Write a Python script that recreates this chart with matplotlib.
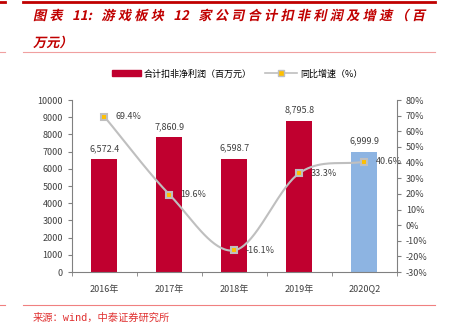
import re
import numpy as np
import matplotlib
matplotlib.use('Agg')
import matplotlib.pyplot as plt
from matplotlib.lines import Line2D
from matplotlib.patches import Patch, PathPatch
from matplotlib.textpath import TextPath, text_to_path
from matplotlib.font_manager import FontProperties
from matplotlib.transforms import Affine2D

plt.rcParams['font.family'] = ['Noto Sans CJK SC', 'DejaVu Sans']
plt.rcParams['font.size'] = 6

categories = ['2016年', '2017年', '2018年', '2019年', '2020Q2']
profit = [6572.4, 7860.9, 6598.7, 8795.8, 6999.9]
growth = [69.4, 19.6, -16.1, 33.3, 40.6]
profit_labels = ['6,572.4', '7,860.9', '6,598.7', '8,795.8', '6,999.9']
growth_labels = ['69.4%', '19.6%', '-16.1%', '33.3%', '40.6%']
title_line1 = '图表 11: 游戏板块 12 家公司合计扣非利润及增速（百'
title_line2 = '万元）'

red = '#C0002F'
blue = '#8DB4E2'
grey = '#BFBFBF'
axis_grey = '#808080'
title_red = '#C00000'
DPI = 100

fig = plt.figure(figsize=(4.49, 3.27), dpi=DPI)
H = 327

title_fp = FontProperties(family=['Noto Sans CJK SC', 'DejaVu Sans'], weight='bold', size=9.5)


def italic_text(s, x0, baseline, fp, color, width=None):
    # slanted text; latin runs kept together, CJK glyphs spread to the given width
    scale = DPI / 72.0
    tokens = re.findall(r'[0-9A-Za-z:]+| |.', s)
    widths = [text_to_path.get_text_width_height_descent(tk, fp, ismath=False)[0] * scale
              for tk in tokens]
    gap = 0.0
    if width is not None and len(tokens) > 1:
        gap = (width - sum(widths)) / (len(tokens) - 1)
    x = x0
    for tk, w in zip(tokens, widths):
        if tk.strip():
            path = TextPath((0, 0), tk, prop=fp)
            tr = Affine2D().skew_deg(12, 0).scale(scale).translate(x, baseline)
            fig.add_artist(PathPatch(path, transform=tr, color=color, lw=0))
        x += w + gap


italic_text(title_line1, 33, H - 20, title_fp, title_red, width=392)
italic_text(title_line2, 33, H - 47, title_fp, title_red)

# header / footer rules
fig.add_artist(Line2D([0.051, 0.969], [0.994, 0.994], color='#C00000', lw=2))
fig.add_artist(Line2D([0, 0.011], [0.994, 0.994], color='#C00000', lw=2))
fig.add_artist(Line2D([0.051, 0.969], [0.841, 0.841], color='#F0A0A0', lw=0.8))
fig.add_artist(Line2D([0, 0.011], [0.841, 0.841], color='#F0A0A0', lw=0.8))
fig.add_artist(Line2D([0.051, 0.969], [0.067, 0.067], color='#F08080', lw=0.8))
fig.add_artist(Line2D([0, 0.011], [0.067, 0.067], color='#F08080', lw=0.8))
fig.text(0.073, 0.027, '来源：wind，中泰证券研究所', color='#E03030',
         fontsize=7.4, ha='left', va='center',
         family=['DejaVu Sans Mono', 'Noto Sans CJK SC'])

ax = fig.add_axes([0.160, 0.168, 0.724, 0.526])
x = np.arange(len(categories))
colors = [red] * 4 + [blue]
ax.bar(x, profit, width=0.4, color=colors, zorder=2)
for xi, v, lab in zip(x, profit, profit_labels):
    ax.text(xi, v + 350, lab, ha='center', va='bottom', fontsize=6.5, color='#404040')

ax.set_xlim(-0.5, len(categories) - 0.5)
ax.set_ylim(0, 10000)
ax.set_yticks(np.arange(0, 10001, 1000))
ax.set_xticks(x)
ax.set_xticklabels(categories)
ax.set_xticks(np.arange(-0.5, len(categories), 1), minor=True)
ax.tick_params(axis='x', which='major', length=0, pad=9, labelsize=6.5, colors='#404040')
ax.tick_params(axis='x', which='minor', length=3, color=axis_grey)
ax.tick_params(axis='y', length=3, color=axis_grey, labelsize=6.5, labelcolor='#404040')
for s in ['top', 'right']:
    ax.spines[s].set_visible(False)
for s in ['left', 'bottom']:
    ax.spines[s].set_color(axis_grey)

ax2 = ax.twinx()
ax2.set_ylim(-30, 80)
ax2.set_yticks(np.arange(-30, 81, 10))
ax2.set_yticklabels([f'{t}%' for t in range(-30, 81, 10)])
ax2.tick_params(axis='y', length=3, color=axis_grey, labelsize=6.5, labelcolor='#404040')
for s in ['top', 'left', 'bottom']:
    ax2.spines[s].set_visible(False)
ax2.spines['right'].set_color(axis_grey)

# smoothed line (Catmull-Rom through the data points)
px = x.astype(float)
py = np.array(growth, dtype=float)
ext_x = np.concatenate([[2 * px[0] - px[1]], px, [2 * px[-1] - px[-2]]])
ext_y = np.concatenate([[2 * py[0] - py[1]], py, [2 * py[-1] - py[-2]]])
sx, sy = [], []
t = np.linspace(0, 1, 40)
for i in range(1, len(ext_x) - 2):
    for arr, out in ((ext_x, sx), (ext_y, sy)):
        p0, p1, p2, p3 = arr[i - 1], arr[i], arr[i + 1], arr[i + 2]
        out.extend(0.5 * ((2 * p1) + (-p0 + p2) * t
                          + (2 * p0 - 5 * p1 + 4 * p2 - p3) * t ** 2
                          + (-p0 + 3 * p1 - 3 * p2 + p3) * t ** 3))
ax2.plot(sx, sy, color=grey, lw=1.5, zorder=3)
ax2.plot(px, py, ls='none', marker='s', ms=5, mfc='#FFC000', mec=grey, mew=1.5, zorder=4)
for xi, v, lab in zip(px, py, growth_labels):
    ax2.text(xi + 0.17, v, lab, ha='left', va='center', fontsize=6.5, color='#404040', zorder=5)

leg1 = fig.legend([Patch(color=red)], ['合计扣非净利润（百万元）'],
                  loc='center left', bbox_to_anchor=(0.249, 0.774), frameon=False,
                  fontsize=6.5, handlelength=3.2, handleheight=0.6,
                  handletextpad=0.3, borderpad=0, borderaxespad=0)
leg2 = fig.legend([Line2D([0], [0], color=grey, lw=1.2, marker='s', ms=4,
                          mfc='#FFC000', mec=grey)], ['同比增速（%）'],
                  loc='center left', bbox_to_anchor=(0.590, 0.774), frameon=False,
                  fontsize=6.5, handlelength=3.5, handletextpad=0.4,
                  borderpad=0, borderaxespad=0)

fig.savefig('out.png', dpi=DPI)
